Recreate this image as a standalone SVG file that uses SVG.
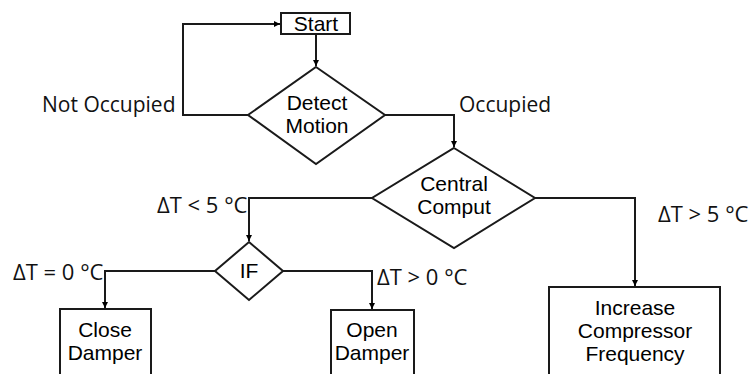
<svg xmlns="http://www.w3.org/2000/svg" width="754" height="374" viewBox="0 0 754 374">
<defs>
<marker id="arr" viewBox="0 0 10 10" refX="10" refY="5" markerWidth="6" markerHeight="6" markerUnits="userSpaceOnUse" orient="auto"><path d="M0,0 L10,5 L0,10 z" fill="#000"/></marker>
<style>
.shape{fill:#fff;stroke:#1a1a1a;stroke-width:2}
.conn{fill:none;stroke:#1a1a1a;stroke-width:2;marker-end:url(#arr)}
.nt{font-family:"Liberation Sans",Arial,sans-serif;font-size:21px;fill:#000;text-anchor:middle}
.lbl{font-family:"Open Sans","Noto Sans",sans-serif;font-size:21px;fill:#111}
.dt{font-size:22px}
</style>
</defs>
<rect width="754" height="374" fill="#fff"/>
<g id="connectors">
<path class="conn" d="M316,34 V66"/>
<path class="conn" d="M248,115 H183 V24 H280"/>
<path class="conn" d="M385,115 H454 V147"/>
<path class="conn" d="M372,198 H249 V241"/>
<path class="conn" d="M535,198 H635 V286"/>
<path class="conn" d="M215,271 H105 V308"/>
<path class="conn" d="M283,271 H372 V309"/>
</g>
<g id="labels">
<text class="lbl" x="42" y="112">Not Occupied</text>
<text class="lbl" x="459" y="112">Occupied</text>
<text class="lbl dt" x="157" y="213">ΔT &lt; 5 °C</text>
<text class="lbl dt" x="658" y="222">ΔT &gt; 5 °C</text>
<text class="lbl dt" x="13" y="280">ΔT = 0 °C</text>
<text class="lbl dt" x="377" y="285">ΔT &gt; 0 °C</text>
</g>
<g id="start">
<rect class="shape" x="281" y="13" width="69" height="21"/>
<text class="nt" x="316" y="31">Start</text>
</g>
<g id="detect">
<polygon class="shape" points="316,67 385,115 316,164 248,115"/>
<text class="nt" x="317" y="110">Detect</text>
<text class="nt" x="317" y="133">Motion</text>
</g>
<g id="central">
<polygon class="shape" points="454,148 535,198 454,248 372,198"/>
<text class="nt" x="454" y="191">Central</text>
<text class="nt" x="454" y="214">Comput</text>
</g>
<g id="if">
<polygon class="shape" points="249,242 283,271 249,300 215,271"/>
<text class="nt" x="249" y="278">IF</text>
</g>
<g id="close">
<rect class="shape" x="60" y="309" width="91" height="70"/>
<text class="nt" x="105" y="337">Close</text>
<text class="nt" x="105" y="360">Damper</text>
</g>
<g id="open">
<rect class="shape" x="331" y="310" width="83" height="70"/>
<text class="nt" x="372" y="337">Open</text>
<text class="nt" x="372" y="360">Damper</text>
</g>
<g id="increase">
<rect class="shape" x="549" y="287" width="171" height="95"/>
<text class="nt" x="635" y="315">Increase</text>
<text class="nt" x="635" y="338">Compressor</text>
<text class="nt" x="635" y="361">Frequency</text>
</g>
</svg>
